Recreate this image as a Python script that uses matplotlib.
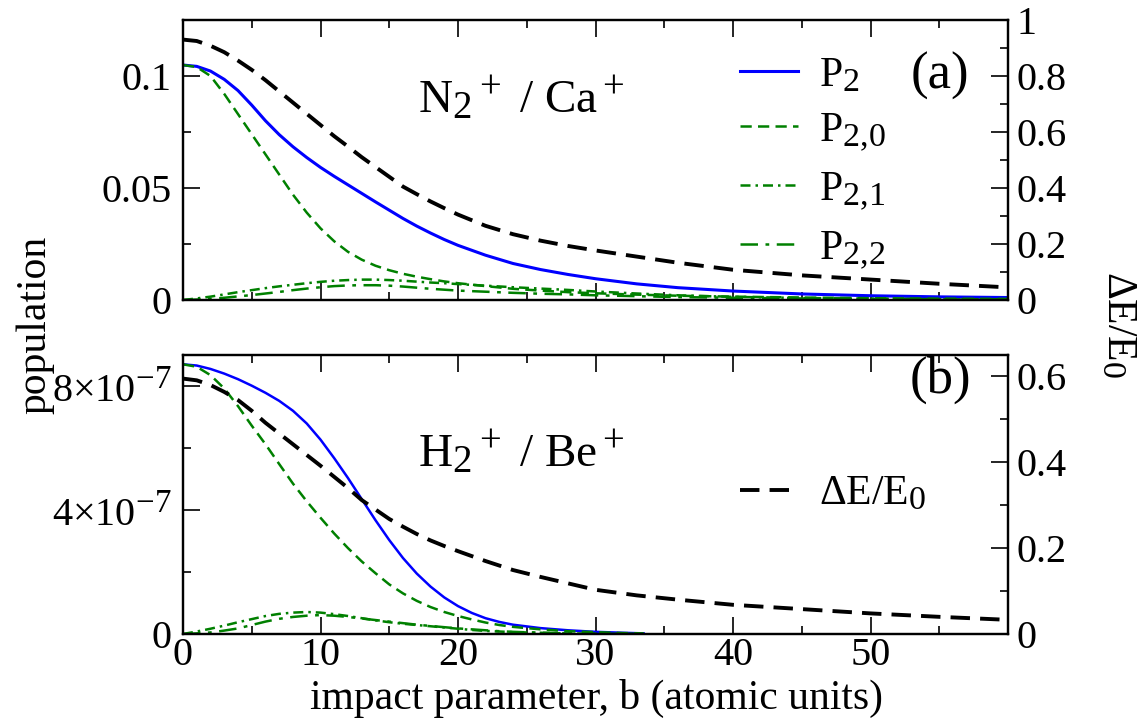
import matplotlib
matplotlib.use("Agg")
import matplotlib.pyplot as plt
import matplotlib._mathtext as mathtext_internals

plt.rcParams['font.family'] = ['Liberation Serif', 'DejaVu Serif']
plt.rcParams['mathtext.fontset'] = 'custom'
plt.rcParams['mathtext.rm'] = 'Liberation Serif'
plt.rcParams['mathtext.it'] = 'Liberation Serif:italic'
plt.rcParams['mathtext.bf'] = 'Liberation Serif:bold'
plt.rcParams['font.size'] = 29
# xmgrace-like sub/superscripts are bigger than mathtext's default
mathtext_internals.SHRINK_FACTOR = 0.82

# ---- panel (a): N2+ / Ca+ ----
b_a = [0, 1, 2, 3, 4, 5, 6, 7, 8, 9, 10, 11, 12, 13, 14, 15, 16, 17, 18, 19, 20,
       22, 24, 26, 28, 30, 33, 36, 40, 45, 50, 55, 60]
p2_a = [0.1049, 0.1043, 0.1022, 0.0985, 0.0935, 0.0870, 0.0800, 0.0738, 0.0684, 0.0636,
        0.0592, 0.0552, 0.0514, 0.0476, 0.0438, 0.0401, 0.0364, 0.0330, 0.0299, 0.0270,
        0.0244, 0.0200, 0.0163, 0.0136, 0.0114, 0.0095, 0.0072, 0.0055, 0.0040, 0.0027,
        0.0019, 0.0014, 0.0011]
p20_a = [0.1049, 0.1040, 0.1000, 0.0920, 0.0830, 0.0740, 0.0650, 0.0560, 0.0470, 0.0390,
         0.0320, 0.0262, 0.0215, 0.0180, 0.0153, 0.0133, 0.0117, 0.0104, 0.0093, 0.0083,
         0.0075, 0.0062, 0.0050, 0.0042, 0.0035, 0.0030, 0.0024, 0.0019, 0.0015, 0.0011,
         0.0008, 0.0006, 0.0005]
p21_a = [0.0, 0.0007, 0.0015, 0.0025, 0.0035, 0.0044, 0.0053, 0.0061, 0.0068, 0.0075,
         0.0081, 0.0086, 0.0089, 0.0091, 0.0091, 0.0089, 0.0086, 0.0082, 0.0078, 0.0075,
         0.0071, 0.0064, 0.0057, 0.0051, 0.0045, 0.0038, 0.0029, 0.0021, 0.0014, 0.0009,
         0.0006, 0.0004, 0.0003]
p22_a = [0.0, 0.0002, 0.0005, 0.0010, 0.0016, 0.0022, 0.0029, 0.0036, 0.0044, 0.0051,
         0.0057, 0.0062, 0.0065, 0.0066, 0.0066, 0.0064, 0.0060, 0.0055, 0.0050, 0.0046,
         0.0042, 0.0037, 0.0032, 0.0028, 0.0025, 0.0021, 0.0017, 0.0013, 0.0010, 0.0007,
         0.0005, 0.0003, 0.0002]
de_a = [0.930, 0.925, 0.908, 0.885, 0.855, 0.822, 0.785, 0.745, 0.705, 0.665, 0.625,
        0.585, 0.548, 0.510, 0.475, 0.440, 0.405, 0.378, 0.352, 0.328, 0.305,
        0.265, 0.235, 0.212, 0.193, 0.177, 0.155, 0.133, 0.108, 0.088, 0.073, 0.058, 0.045]

# ---- panel (b): H2+ / Be+ (populations in units of 1e-7) ----
b_b = [0, 1, 2, 3, 4, 5, 6, 7, 8, 9, 10, 11, 12, 13, 14, 15, 16, 17, 18, 19, 20,
       21, 22, 23, 24, 26, 28, 30, 32, 33.5]
p2_b = [8.70, 8.66, 8.55, 8.40, 8.22, 8.01, 7.78, 7.52, 7.20, 6.79, 6.27, 5.67, 5.03,
        4.35, 3.67, 3.03, 2.45, 1.95, 1.53, 1.18, 0.90, 0.68, 0.51, 0.39, 0.30, 0.19,
        0.12, 0.07, 0.04, 0.02]
p20_b = [8.70, 8.62, 8.35, 7.92, 7.35, 6.72, 6.12, 5.48, 4.85, 4.28, 3.75, 3.24, 2.77,
         2.34, 1.96, 1.60, 1.31, 1.07, 0.87, 0.71, 0.58, 0.47, 0.37, 0.29, 0.23, 0.15,
         0.09, 0.06, 0.03, 0.02]
p21_b = [0.0, 0.08, 0.17, 0.27, 0.38, 0.48, 0.58, 0.65, 0.69, 0.71, 0.69, 0.64, 0.58,
         0.51, 0.44, 0.38, 0.33, 0.29, 0.25, 0.21, 0.17, 0.13, 0.10, 0.08, 0.06, 0.04,
         0.02, 0.01, 0.005, 0.0]
p22_b = [0.0, 0.02, 0.05, 0.11, 0.18, 0.29, 0.40, 0.49, 0.55, 0.59, 0.61, 0.59, 0.55,
         0.50, 0.45, 0.40, 0.35, 0.30, 0.26, 0.22, 0.18, 0.15, 0.12, 0.09, 0.07, 0.04,
         0.02, 0.01, 0.005, 0.0]
b_de_b = [0, 1, 2, 3, 4, 5, 6, 7, 8, 9, 10, 11, 12, 13, 14, 15, 16, 17, 18, 19, 20,
          22, 24, 26, 28, 30, 33, 36, 40, 45, 50, 55, 60]
de_b = [0.595, 0.591, 0.580, 0.564, 0.545, 0.520, 0.492, 0.467, 0.442, 0.417, 0.392,
        0.366, 0.340, 0.312, 0.290, 0.268, 0.250, 0.233, 0.218, 0.205, 0.193,
        0.170, 0.149, 0.133, 0.118, 0.103, 0.090, 0.080, 0.068, 0.058, 0.048, 0.040, 0.033]

green = '#008000'
blue = '#0000ff'

W, H = 1146, 724
fig = plt.figure(figsize=(W / 100, H / 100), dpi=100)
ax1 = fig.add_axes([183 / W, 1 - 300 / H, 825 / W, 280 / H])
ax2 = fig.add_axes([183 / W, 1 - 634 / H, 825 / W, 279 / H])
ax1r = ax1.twinx()
ax2r = ax2.twinx()

s20 = (0, (4.5, 2.5))
s21 = (0, (4, 2, 1, 2))
s22 = (0, (7, 3, 1.5, 3))
sde = (0, (5, 2.6))

ax1.plot(b_a, p2_a, color=blue, lw=2.2, label=r'P$_2$')
ax1.plot(b_a, p20_a, color=green, lw=1.8, ls=s20, label=r'P$_{2{,}0}$')
ax1.plot(b_a, p21_a, color=green, lw=1.8, ls=s21, label=r'P$_{2{,}1}$')
ax1.plot(b_a, p22_a, color=green, lw=1.8, ls=s22, label=r'P$_{2{,}2}$')
ax1r.plot(b_a, de_a, color='black', lw=2.8, ls=sde)

ax2.plot(b_b, [v * 1e-7 for v in p2_b], color=blue, lw=1.8)
ax2.plot(b_b, [v * 1e-7 for v in p20_b], color=green, lw=1.8, ls=s20)
ax2.plot(b_b, [v * 1e-7 for v in p21_b], color=green, lw=1.8, ls=s21)
ax2.plot(b_b, [v * 1e-7 for v in p22_b], color=green, lw=1.8, ls=s22)
ax2r.plot(b_de_b, de_b, color='black', lw=2.8, ls=sde, label=r'$\Delta$E/E$_0$')

for ax in (ax1, ax2, ax1r, ax2r):
    ax.set_xlim(0, 60)
    for sp in ax.spines.values():
        sp.set_linewidth(1.6)
    ax.tick_params(which='both', direction='in', width=1.2)
    ax.tick_params(which='major', length=12)
    ax.tick_params(which='minor', length=6)

for ax in (ax1, ax2):
    ax.set_xticks([0, 10, 20, 30, 40, 50, 60])
    ax.set_xticks([5, 15, 25, 35, 45, 55], minor=True)
    ax.tick_params(which='both', top=True, bottom=True, left=True, right=False)
    ax.tick_params(axis='y', pad=8)
    ax.tick_params(axis='x', pad=2)

ax1.set_xticklabels([])
ax2.set_xticklabels(['0', '10', '20', '30', '40', '50', ''])

ax1.set_ylim(0, 0.125)
ax1.set_yticks([0, 0.05, 0.1], ['0', '0.05', '0.1'])
ax1.set_yticks([0.025, 0.075], minor=True)

ax2.set_ylim(0, 9e-7)
ax2.set_yticks([0, 4e-7, 8e-7], ['0', r'4$\times$10$^{-7}$', r'8$\times$10$^{-7}$'])
ax2.set_yticks([2e-7, 6e-7], minor=True)

ax1r.set_ylim(0, 1)
ax1r.set_yticks([0, 0.2, 0.4, 0.6, 0.8, 1.0], ['0', '0.2', '0.4', '0.6', '0.8', '1'])
ax1r.set_yticks([0.1, 0.3, 0.5, 0.7, 0.9], minor=True)
ax2r.set_ylim(0, 0.65)
ax2r.set_yticks([0, 0.2, 0.4, 0.6], ['0', '0.2', '0.4', '0.6'])
ax2r.set_yticks([0.1, 0.3, 0.5], minor=True)
for ax in (ax1r, ax2r):
    ax.tick_params(which='both', left=False, right=True, top=False, bottom=False, pad=6)

ax1.text(0.918, 0.80, '(a)', transform=ax1.transAxes, ha='center', va='center', fontsize=38)
ax2.text(0.918, 0.91, '(b)', transform=ax2.transAxes, ha='center', va='center', fontsize=38)
ax1.text(0.285, 0.67, r'N$_2$$^+$ / Ca$^+$', transform=ax1.transAxes, ha='left', va='baseline', fontsize=34)
ax2.text(0.285, 0.60, r'H$_2$$^+$ / Be$^+$', transform=ax2.transAxes, ha='left', va='baseline', fontsize=34)

ax1.legend(loc='upper left', bbox_to_anchor=(0.675, 0.87), frameon=False, borderpad=0,
           borderaxespad=0, handlelength=1.4, handletextpad=0.5, labelspacing=0.4, fontsize=30)
ax2r.legend(loc='upper left', bbox_to_anchor=(0.675, 0.57), frameon=False, borderpad=0,
            borderaxespad=0, handlelength=1.4, handletextpad=0.5, fontsize=30)

fig.text(35 / W, 1 - 325 / H, 'population', rotation=90, ha='center', va='center', fontsize=30)
fig.text(1118 / W, 1 - 325 / H, r'$\Delta$E/E$_0$', rotation=270, ha='center', va='center', fontsize=30)
fig.text(596 / W, 1 - 698 / H, 'impact parameter, b (atomic units)', ha='center', va='center', fontsize=30)

fig.savefig('out.png', dpi=100)
